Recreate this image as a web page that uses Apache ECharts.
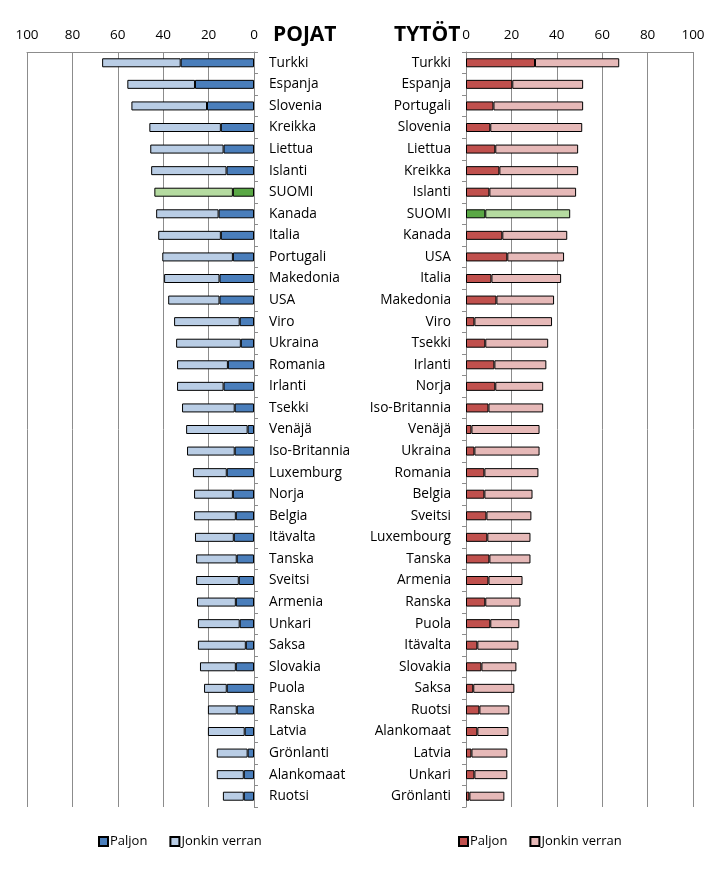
<!DOCTYPE html>
<html><head><meta charset="utf-8">
<script src="https://cdn.jsdelivr.net/npm/echarts@6/dist/echarts.min.js"></script>
<style>html,body{margin:0;padding:0;background:#fff}#c{width:719px;height:889px}</style>
</head><body><div id="c"></div>
<script>
// Pojat (boys)
const boysCountries = ['Turkki','Espanja','Slovenia','Kreikka','Liettua','Islanti','SUOMI','Kanada','Italia','Portugali','Makedonia','USA','Viro','Ukraina','Romania','Irlanti','Tsekki','Venäjä','Iso-Britannia','Luxemburg','Norja','Belgia','Itävalta','Tanska','Sveitsi','Armenia','Unkari','Saksa','Slovakia','Puola','Ranska','Latvia','Grönlanti','Alankomaat','Ruotsi'];
const boysPaljon = [32.3,26.0,20.7,14.6,13.4,12.1,9.3,15.6,14.6,9.3,15.2,15.2,6.3,5.8,11.5,13.4,8.5,2.8,8.5,12.0,9.3,8.0,8.9,7.6,6.7,8.0,6.3,3.6,8.0,12.0,7.6,4.1,2.8,4.5,4.5];
const boysJonkin = [34.6,29.8,33.3,31.5,32.3,33.2,34.6,27.5,27.6,31.1,24.4,22.6,28.9,28.5,22.4,20.5,23.2,27.1,21.0,14.9,17.1,18.4,17.1,17.9,18.8,17.1,18.4,21.1,15.8,10.0,12.7,16.2,13.6,11.9,9.2];
// Tytöt (girls)
const girlsCountries = ['Turkki','Espanja','Portugali','Slovenia','Liettua','Kreikka','Islanti','SUOMI','Kanada','USA','Italia','Makedonia','Viro','Tsekki','Irlanti','Norja','Iso-Britannia','Venäjä','Ukraina','Romania','Belgia','Sveitsi','Luxembourg','Tanska','Armenia','Ranska','Puola','Itävalta','Slovakia','Saksa','Ruotsi','Alankomaat','Latvia','Unkari','Grönlanti'];
const girlsPaljon = [30.4,20.4,12.1,10.7,12.9,14.7,10.3,8.5,16.0,18.2,11.2,13.4,3.7,8.5,12.5,12.9,9.9,2.4,3.7,8.1,8.1,9.0,9.4,10.3,9.9,8.5,10.7,5.0,6.8,3.2,5.9,5.0,2.4,3.7,1.5];
const girlsJonkin = [37.1,31.2,39.5,40.5,36.5,34.7,38.2,37.4,28.6,25.0,30.7,25.4,34.2,27.7,22.9,21.1,24.1,30.0,28.7,23.8,21.2,19.8,19.0,18.1,15.0,15.5,12.8,18.1,15.4,18.1,13.2,13.7,15.8,14.5,15.4];
const valueTicks = [0,20,40,60,80,100];

const C = {
  bDark:'#4a7ebb', bLight:'#b9cde5',
  gDark:'#c0504d', gLight:'#e6b9b8',
  fDark:'#5aa845', fLight:'#b5dba0'
};
const FONT = 'Open Sans';

function mk(arr, countries, isDark){
  return arr.map((v,i)=> countries[i]==='SUOMI'
    ? {value:v, itemStyle:{color: isDark? C.fDark : C.fLight}}
    : v);
}

const gridTop = 52, gridH = 755;
const chart = echarts.init(document.getElementById('c'));
const axisLabelV = {fontSize:13.5, color:'#000', fontFamily:FONT, margin:10};
const splitLineV = {show:true, lineStyle:{color:'#8c8c8c', width:1}};
const barCommon = {type:'bar', barWidth:9};

chart.setOption({
  animation:false,
  textStyle:{fontFamily:FONT},
  title:[
    {text:'POJAT', left:268, top:20, textStyle:{fontSize:21, fontWeight:'bold', color:'#000', fontFamily:FONT}},
    {text:'TYTÖT', left:389, top:20, textStyle:{fontSize:21, fontWeight:'bold', color:'#000', fontFamily:FONT}}
  ],
  grid:[
    {left:27, right:465, top:gridTop, height:gridH},
    {left:466, right:26, top:gridTop, height:gridH}
  ],
  xAxis:[
    {gridIndex:0, type:'value', min:valueTicks[0], max:valueTicks[valueTicks.length-1], interval:20, inverse:true, position:'top',
     axisLabel:axisLabelV, splitLine:splitLineV, axisLine:{show:true, lineStyle:{color:'#8c8c8c'}}, axisTick:{show:false}},
    {gridIndex:1, type:'value', min:valueTicks[0], max:valueTicks[valueTicks.length-1], interval:20, position:'top',
     axisLabel:axisLabelV, splitLine:splitLineV, axisLine:{show:true, lineStyle:{color:'#8c8c8c'}}, axisTick:{show:false}}
  ],
  yAxis:[
    {gridIndex:0, type:'category', data:boysCountries, inverse:true, position:'right',
     axisLine:{show:true, lineStyle:{color:'#8c8c8c'}}, axisTick:{show:true, length:4, lineStyle:{color:'#8c8c8c'}},
     axisLabel:{fontSize:13.7, color:'#000', fontFamily:FONT, margin:15, align:'left', interval:0}},
    {gridIndex:1, type:'category', data:girlsCountries, inverse:true, position:'left',
     axisLine:{show:true, lineStyle:{color:'#8c8c8c'}}, axisTick:{show:true, length:4, lineStyle:{color:'#8c8c8c'}},
     axisLabel:{fontSize:13.7, color:'#000', fontFamily:FONT, margin:15, align:'right', interval:0}}
  ],
  legend:[
    {left:93, top:830, itemWidth:9, itemHeight:9, itemGap:22, icon:'rect',
     textStyle:{fontSize:13, color:'#000', fontFamily:FONT, padding:[0,0,0,-3]},
     data:['Paljon|p','Jonkin verran|p'], formatter:n=>n.split('|')[0], selectedMode:false},
    {left:453, top:830, itemWidth:9, itemHeight:9, itemGap:22, icon:'rect',
     textStyle:{fontSize:13, color:'#000', fontFamily:FONT, padding:[0,0,0,-3]},
     data:['Paljon|t','Jonkin verran|t'], formatter:n=>n.split('|')[0], selectedMode:false}
  ],
  series:[
    {...barCommon, name:'Paljon|p', stack:'b', xAxisIndex:0, yAxisIndex:0,
     itemStyle:{color:C.bDark, borderColor:'#000', borderWidth:1},
     data:mk(boysPaljon, boysCountries, true)},
    {...barCommon, name:'Jonkin verran|p', stack:'b', xAxisIndex:0, yAxisIndex:0,
     itemStyle:{color:C.bLight, borderColor:'#000', borderWidth:1},
     data:mk(boysJonkin, boysCountries, false)},
    {...barCommon, name:'Paljon|t', stack:'g', xAxisIndex:1, yAxisIndex:1,
     itemStyle:{color:C.gDark, borderColor:'#000', borderWidth:1},
     data:mk(girlsPaljon, girlsCountries, true)},
    {...barCommon, name:'Jonkin verran|t', stack:'g', xAxisIndex:1, yAxisIndex:1,
     itemStyle:{color:C.gLight, borderColor:'#000', borderWidth:1},
     data:mk(girlsJonkin, girlsCountries, false)}
  ]
});
</script></body></html>
